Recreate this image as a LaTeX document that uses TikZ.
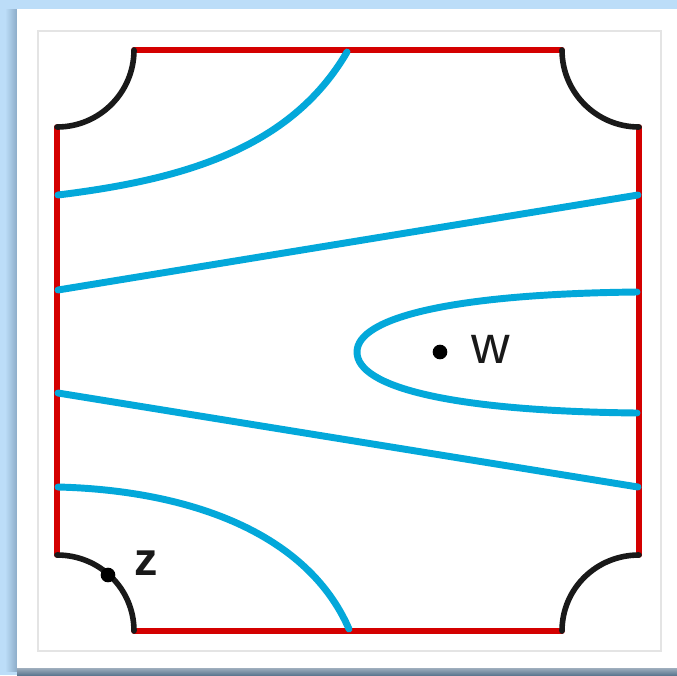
\documentclass[tikz,border=0pt]{standalone}
\usepackage{fontspec}
\setmainfont{Liberation Sans}
\definecolor{bgblue}{HTML}{BCDDF8}
\definecolor{shadowblue}{HTML}{8CACC8}
\definecolor{bottomstrip}{HTML}{5E7891}
\definecolor{edgered}{HTML}{D40000}
\definecolor{curveblue}{HTML}{03A8DA}
\definecolor{framegray}{HTML}{E4E4E4}
\tikzset{
  rededge/.style={draw=edgered, line width=4.2pt, line cap=round, line join=round},
  cornerarc/.style={draw=black!90, line width=4.2pt, line cap=round},
  levelcurve/.style={draw=curveblue, line width=5.2pt, line cap=round},
  ptdot/.style={circle, fill=black, inner sep=0pt, minimum size=11pt},
  ptlabel/.style={inner sep=0pt, text=black!90},
}
\begin{document}
\begin{tikzpicture}[x=0.75pt, y=-0.75pt]
\useasboundingbox (0,0) rectangle (677,675);
% background
\fill[bgblue] (0,0) rectangle (677,675);
\shade[left color=bgblue, right color=shadowblue] (5,9) rectangle (17,671);
\shade[top color=bottomstrip!60, bottom color=bottomstrip] (17,668) rectangle (677,675);
\fill[white] (17,9) rectangle (677,668);
\draw[framegray, line width=0.8pt] (38,31) rectangle (661,651);

% corners of the region
\coordinate (TLa) at (57,127);  \coordinate (TLb) at (134,50);
\coordinate (TRa) at (562,50);  \coordinate (TRb) at (639,127);
\coordinate (BRa) at (639,555); \coordinate (BRb) at (562,631);
\coordinate (BLa) at (134,631); \coordinate (BLb) at (57,555);

% red edges
\draw[rededge] (TLb) -- (TRa);
\draw[rededge] (TRb) -- (BRa);
\draw[rededge] (BRb) -- (BLa);
\draw[rededge] (BLb) -- (TLa);

% black concave corner arcs (quarter circles centred on the square's corners)
\draw[cornerarc] (TLa) .. controls (99.5,127) and (134,92.5) .. (TLb);
\draw[cornerarc] (TRa) .. controls (562,92.5) and (596.5,127) .. (TRb);
\draw[cornerarc] (BRa) .. controls (596.5,555) and (562,588.5) .. (BRb);
\draw[cornerarc] (BLa) .. controls (134,588.5) and (99.5,555) .. (BLb);

% level curves
\coordinate (c1a) at (58,195);  \coordinate (c1b) at (347,52);
\coordinate (c2a) at (58,290);  \coordinate (c2b) at (638,195);
\coordinate (c3a) at (637,292); \coordinate (c3v) at (357,352); \coordinate (c3b) at (637,413);
\coordinate (c4a) at (58,393);  \coordinate (c4b) at (638,487);
\coordinate (c5a) at (58,487);  \coordinate (c5b) at (349,629);

\draw[levelcurve] (c1a) .. controls (180,180) and (290,150) .. (c1b);
\draw[levelcurve] (c2a) -- (c2b);
\draw[levelcurve] (c3a) .. controls (450,294) and (357,318) .. (c3v)
                        .. controls (357,387) and (450,411) .. (c3b);
\draw[levelcurve] (c4a) -- (c4b);
\draw[levelcurve] (c5a) .. controls (180,490) and (305,528) .. (c5b);

% points
\node[ptdot] (wdot) at (440,352) {};
\node[ptlabel, anchor=west] (wlab) at (471,349) {\fontsize{40}{40}\selectfont w};
\node[ptdot] (zdot) at (108,575) {};
\node[ptlabel, anchor=west] (zlab) at (134,563) {\fontsize{35}{35}\selectfont\bfseries z};
\end{tikzpicture}
\end{document}
